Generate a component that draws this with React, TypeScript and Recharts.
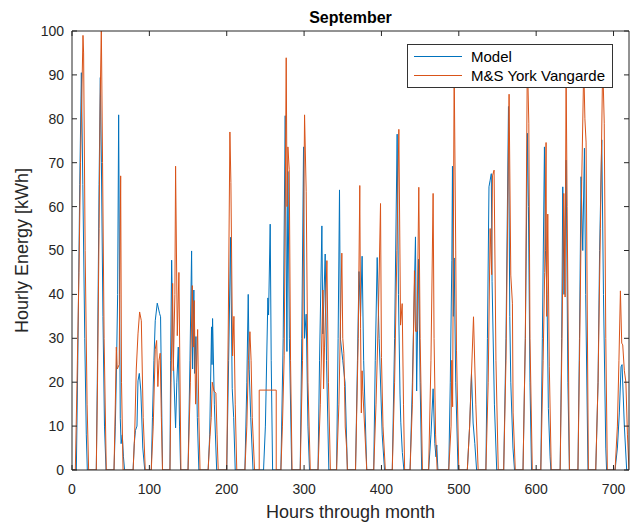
import { LineChart, Line, XAxis, YAxis, Legend } from 'recharts'

// hourly energy as [hour, kWh] vertices, one day per line
const modelPoints: [number, number][] = [
  [0, 0], [5.6, 0], [7.5, 25], [10, 65], [12.1, 90.5], [14, 65], [16.5, 30], [18.5, 8], [19.8, 0],
  [31.4, 0], [33, 25], [35, 65], [36.6, 89.4], [38, 70], [40, 35], [42, 10], [44, 0],
  [54.3, 0], [56, 10], [57.5, 23], [59, 40], [60.3, 80.9], [61.5, 40], [62.4, 11.8], [63.5, 6], [65, 8], [66.5, 3], [68, 0],
  [79, 0], [80.5, 6], [82, 9], [84, 10], [85.3, 20.3], [87, 22], [89, 18], [91.5, 5], [94, 0],
  [102.5, 0], [104, 12], [105.9, 25], [107.6, 34], [110.2, 38], [113.3, 35.6], [114.5, 34.9], [117, 0],
  [126.6, 0], [127.5, 25], [128.8, 47.8], [131, 25], [133.9, 9.6], [135.5, 20], [137.4, 28], [139, 10], [140.4, 0],
  [150, 0], [152.5, 25], [154.6, 49.9], [155.9, 23], [157.5, 41], [158.5, 22], [160.2, 30.4], [162, 12], [164, 0],
  [176, 0], [178, 8], [180.4, 32.6], [181, 24], [181.7, 34.5], [184, 15], [187, 0],
  [200, 0], [202.5, 25], [205, 53], [207.1, 18.6], [209, 12], [211, 0],
  [223.5, 0], [226, 20], [227.8, 40], [229.1, 22.8], [231, 12], [234, 0],
  [247.6, 0], [250, 10], [253.2, 39.2], [254.1, 35.3], [256.2, 56], [257.5, 25], [259.3, 0],
  [270, 0], [273, 30], [275.6, 80.7], [277.8, 27], [279.1, 68], [281, 30], [284, 0],
  [295, 0], [297, 30], [299.3, 73.6], [300.6, 30], [302.7, 35.5], [305, 10], [307, 0],
  [318, 0], [320, 25], [323, 55.6], [324.3, 31], [327.3, 49.2], [329, 25], [332, 0],
  [342, 0], [344, 30], [345.8, 63.8], [347, 29.8], [350, 25], [353, 19.8], [356, 0],
  [366.5, 0], [369, 25], [371, 45.2], [373, 35], [375, 48.7], [377, 25], [381, 0],
  [390, 0], [392, 25], [394.5, 48.4], [396, 36.6], [397, 30], [398, 24.6], [401, 8], [404, 0],
  [414, 0], [417, 30], [420.3, 76.5], [422, 40], [424, 17.3], [425, 10.9], [427, 4], [429, 0],
  [437, 0], [440, 20], [444, 53.1], [445.5, 18], [448, 48], [450, 20], [452, 0],
  [461, 0], [464, 8], [466.8, 18.5], [469, 6], [470.5, 3], [471.5, 5.7], [473, 0],
  [487, 0], [489, 20], [491, 47.8], [491.8, 69.2], [493, 35], [494, 48.3], [496, 20], [499, 0],
  [511, 0], [514, 10], [516.4, 22], [518.5, 10.7], [520.7, 6], [523, 0],
  [535, 0], [537, 30], [539, 64.5], [540.5, 66], [542, 67.5], [543, 43], [546, 15], [549, 0],
  [558, 0], [561, 30], [564.2, 82.8], [565.9, 35], [567.2, 20], [570, 5], [572, 0],
  [583, 0], [586, 30], [588.7, 76.7], [590, 60], [592, 20], [594, 0],
  [606, 0], [608, 30], [610.7, 73.6], [612, 50], [614, 40], [615.8, 14], [618, 3], [619, 0],
  [631, 0], [633, 30], [634.4, 64.5], [636, 40], [638.7, 70.6], [641, 20], [643, 0],
  [654, 0], [656, 30], [658, 66.8], [660.2, 50], [662.4, 73.3], [664, 40], [667, 0],
  [677, 0], [680, 20], [682, 50], [684.8, 75.2], [687, 40], [690, 5], [691, 0],
  [702, 0], [705, 5], [707.5, 13], [709.7, 23.5], [711, 24], [714, 10], [717, 0], [720, 0],
]

const sitePoints: [number, number][] = [
  [0, 0], [4.3, 0], [6.5, 20], [9, 45], [11, 70], [14.2, 99], [15, 95], [17, 50], [19.5, 15], [21.5, 0],
  [31.4, 0], [33, 20], [35, 55], [36.5, 85], [37.9, 101], [39.5, 70], [41.5, 30], [44.3, 0],
  [54.3, 0], [56, 15], [57.3, 28], [58.5, 23], [61, 24], [62.9, 67], [64, 20], [66, 0],
  [79, 0], [81, 8], [83.1, 23], [85.3, 31], [87.4, 36], [89.6, 34], [92, 12], [94.7, 0],
  [102.5, 0], [105, 10], [107.6, 27.5], [109.4, 29.5], [111, 19], [112.5, 25], [114, 26.6], [115.5, 12], [117, 0],
  [126.6, 0], [128, 20], [130.1, 42.5], [130.9, 22.6], [133, 40], [133.9, 69.2], [136.1, 30.6], [138.2, 45], [140.8, 0],
  [150, 0], [153, 20], [155.5, 42], [156.8, 28], [158, 38.6], [159.8, 15], [162.4, 32], [164, 12], [165.5, 0],
  [176, 0], [178.3, 7.6], [180, 12], [181.3, 20], [183.5, 18], [186, 17.5], [187.5, 8], [189, 0],
  [200, 0], [202, 32.8], [204.1, 77], [205.4, 65.5], [207.6, 26], [209.3, 35], [211, 15], [213, 0],
  [223.5, 0], [226, 10], [228, 25], [230, 31.5], [231.5, 25], [233, 12], [236, 0],
  [242, 0], [242, 18.2], [264, 18.2], [264, 0],
  [270, 0], [272, 10], [274.3, 26], [276.9, 93.9], [278, 60], [279.1, 73.6], [280.8, 68.4], [282.5, 25], [284.5, 0],
  [295, 0], [298, 25], [300.6, 80.9], [302.7, 63.5], [305, 20], [308, 0],
  [318, 0], [321, 15], [324.3, 41], [325.2, 18.5], [326.4, 28], [329.5, 47.7], [331.5, 20], [334, 0],
  [342, 0], [345, 15], [348.8, 49.4], [350, 30], [351.4, 26.6], [352.3, 19], [353.2, 9.8], [355, 5], [356, 0],
  [366.5, 0], [370, 30], [372, 64.8], [373, 32.3], [374, 13], [375, 22.6], [376, 17.8], [381, 0],
  [390, 0], [393, 15], [396, 35], [398.8, 60.7], [400, 25.6], [402, 10], [405, 0],
  [414, 0], [417, 20], [420, 50], [422.5, 77.6], [424.7, 33], [426.8, 37.9], [428.5, 15], [430, 0],
  [437, 0], [440, 15], [442.7, 45.4], [444, 31.6], [446, 31.6], [448.3, 64.4], [450, 30], [453, 0],
  [461, 0], [464, 25], [466.8, 63], [468, 30], [470, 8], [472, 0],
  [487, 0], [490, 10], [491, 25], [492, 14.4], [494, 92], [496, 50.1], [497, 27.3], [500, 0],
  [511, 0], [514, 10], [516, 20], [519, 34.9], [522, 15], [525, 0],
  [535, 0], [538, 20], [540.5, 55], [542.5, 44.5], [543.5, 67], [545.6, 68.3], [548, 25], [551, 0],
  [558, 0], [561, 25], [565, 85.6], [567.2, 44.4], [569.3, 38], [570.2, 13], [573, 0],
  [583, 0], [586, 30], [588.5, 92], [589.5, 87], [590.5, 79], [592, 30], [595, 0],
  [606, 0], [609, 25], [611, 45], [612.8, 74.6], [613.5, 35], [615, 58.3], [617, 23.5], [619.5, 0],
  [631, 0], [633, 25], [635.7, 63], [637.4, 39.4], [638.7, 91], [640, 60], [643, 0],
  [654, 0], [656, 25], [658.9, 65.7], [661.5, 92], [663, 80], [664.5, 74.7], [667.5, 0],
  [677, 0], [680, 20], [683, 55], [686, 93], [688, 79], [690, 30], [692, 0],
  [702, 0], [705, 10], [707, 25], [708.9, 40.8], [710.6, 28.9], [711.9, 28.5], [714, 22.6], [716, 20], [718, 8], [720, 0],
]

const seriesNames = ['Model', 'M&S York Vangarde']
const xTicks = [0, 100, 200, 300, 400, 500, 600, 700]
const yTicks = [0, 10, 20, 30, 40, 50, 60, 70, 80, 90, 100]

const modelData = modelPoints.map(([h, v]) => ({ h, v }))
const siteData = sitePoints.map(([h, v]) => ({ h, v }))

const FONT = '"Liberation Sans", Arial, sans-serif'
const AXIS = '#262626'
const tickStyle = { fontSize: 14, fill: AXIS, fontFamily: FONT }

function LegendBox({ payload }: any) {
  // keep the plotting order, not the alphabetical one
  const items = [...(payload || [])].sort(
    (a: any, b: any) => seriesNames.indexOf(a.value) - seriesNames.indexOf(b.value)
  )
  return (
    <div
      style={{
        background: '#fff',
        border: '1px solid #333',
        padding: '2px 7px 2px 6px',
        fontFamily: FONT,
        fontSize: 15,
        color: '#000',
        lineHeight: '19px',
      }}
    >
      {items.map((p: any) => (
        <div key={p.value} style={{ display: 'flex', alignItems: 'center' }}>
          <span style={{ display: 'inline-block', width: 48, height: 1, background: p.color, marginRight: 9 }} />
          <span>{p.value}</span>
        </div>
      ))}
    </div>
  )
}

export default function App() {
  return (
    <div style={{ position: 'absolute', left: 0, top: 0, background: '#fff' }}>
      <LineChart width={630} height={526} margin={{ top: 30, right: 0, bottom: 0, left: 0 }}>
        <XAxis
          dataKey="h"
          type="number"
          domain={[0, 720]}
          ticks={xTicks}
          allowDataOverflow
          height={56}
          stroke={AXIS}
          tickSize={-5}
          tickMargin={19}
          tick={tickStyle}
          label={{ value: 'Hours through month', position: 'insideBottom', offset: 8, fill: AXIS, fontSize: 18, fontFamily: FONT }}
        />
        <XAxis
          xAxisId="top"
          orientation="top"
          dataKey="h"
          type="number"
          domain={[0, 720]}
          ticks={xTicks}
          allowDataOverflow
          height={1}
          stroke={AXIS}
          tickSize={-5}
          tickFormatter={() => ''}
          label={{ value: 'September', position: 'top', offset: 7, fill: '#000', fontSize: 16, fontWeight: 'bold', fontFamily: FONT }}
        />
        <YAxis
          type="number"
          domain={[0, 100]}
          ticks={yTicks}
          allowDataOverflow
          width={72}
          stroke={AXIS}
          tickSize={-5}
          tickMargin={13}
          tick={tickStyle}
          label={{ value: 'Hourly Energy [kWh]', angle: -90, position: 'center', dx: -14, fill: AXIS, fontSize: 18, fontFamily: FONT }}
        />
        <YAxis
          yAxisId="right"
          orientation="right"
          type="number"
          domain={[0, 100]}
          ticks={yTicks}
          allowDataOverflow
          width={1}
          stroke={AXIS}
          tickSize={-5}
          tickFormatter={() => ''}
        />
        <Legend
          layout="vertical"
          verticalAlign="middle"
          align="center"
          content={<LegendBox />}
          wrapperStyle={{ left: 407, top: 44, width: 'auto', height: 'auto' }}
        />
        <Line
          data={modelData}
          dataKey="v"
          name={seriesNames[0]}
          stroke="#0072BD"
          strokeWidth={1}
          dot={false}
          activeDot={false}
          isAnimationActive={false}
        />
        <Line
          data={siteData}
          dataKey="v"
          name={seriesNames[1]}
          stroke="#D95319"
          strokeWidth={1}
          dot={false}
          activeDot={false}
          isAnimationActive={false}
        />
      </LineChart>
    </div>
  )
}
